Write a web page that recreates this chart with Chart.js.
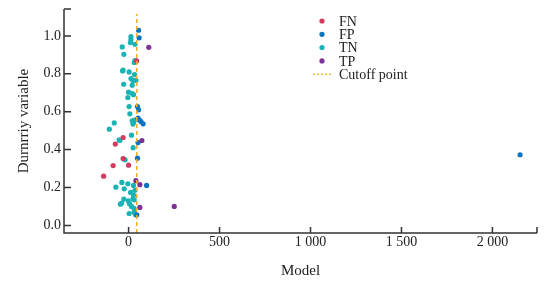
<!DOCTYPE html>
<html>
<head>
<meta charset="utf-8">
<script src="https://cdn.jsdelivr.net/npm/chart.js@4"></script>
<style>
  html, body { margin: 0; padding: 0; background: #fff; }
  #wrap { width: 550px; height: 283px; }
</style>
</head>
<body>
<div id="wrap"><canvas id="c" width="550" height="283"></canvas></div>
<script>
// data
const fnX = [44, -30, -73, -30, -85, 0, -137];
const fnY = [0.868, 0.464, 0.429, 0.353, 0.316, 0.318, 0.26];

const fpX = [55, 58, 49, 55, 52, 60, 68, 80, 52, 49, 99, 45, 2152];
const fpY = [1.03, 0.99, 0.627, 0.61, 0.566, 0.556, 0.548, 0.536, 0.437, 0.355, 0.211, 0.056, 0.373];

const tnX = [13, 13, 10, -35, 35, -26, 31, 35, -30, -33, 3, 33, 13, 24, 40, -27, 20, 0, 20, 27,
  -4, 3, 7, -79, -106, 20, 27, 33, 24, -52, 16, 25, -19, -26, -37, -4, 27, -70, -24, 35,
  11, -26, -2, -38, -45, 24, 5, 16, 30, 3, 30, 38, 31, 27, -48];
const tnY = [0.996, 0.98, 0.965, 0.942, 0.956, 0.903, 0.86, 0.87, 0.82, 0.815, 0.81, 0.796, 0.775, 0.765, 0.765, 0.745, 0.74, 0.703, 0.696, 0.69,
  0.675, 0.627, 0.589, 0.541, 0.508, 0.552, 0.545, 0.556, 0.535, 0.452, 0.476, 0.41, 0.346, 0.35, 0.227, 0.22, 0.211, 0.202, 0.193, 0.185,
  0.174, 0.139, 0.13, 0.118, 0.112, 0.14, 0.115, 0.1, 0.09, 0.063, 0.07, 0.056, 0.135, 0.16, 0.448];

const tpX = [111, 73, 40, 62, 62, 251];
const tpY = [0.94, 0.448, 0.236, 0.215, 0.095, 0.10];

const cutoff = 45;
const xTicks = [0, 500, 1000, 1500, 2000];
const yTicks = [0, 0.2, 0.4, 0.6, 0.8, 1.0];
const legendLabels = ["FN", "FP", "TN", "TP", "Cutoff point"];

const colFN = "#d23a5f", colFP = "#0b74bf", colTN = "#1ab3b5", colTP = "#7d3296", colCut = "#f5ac2c";
const serif = "'Liberation Serif', 'DejaVu Serif', serif";

function pts(xs, ys) { return xs.map((x, i) => ({x: x, y: ys[i]})); }

function dots(label, xs, ys, color, order) {
  return {
    type: "scatter", label: label, data: pts(xs, ys), order: order,
    backgroundColor: color, borderColor: color, pointRadius: 2.6, pointHoverRadius: 2.6, borderWidth: 0
  };
}

// axes, inward ticks and the legend
const frame = {
  id: "frame",
  afterDraw(chart) {
    const ctx = chart.ctx, a = chart.chartArea;
    const xs = chart.scales.x, ys = chart.scales.y;
    ctx.save();
    ctx.strokeStyle = "#333";
    ctx.lineWidth = 1.5;
    ctx.beginPath();
    ctx.moveTo(a.left, a.top); ctx.lineTo(a.left, a.bottom); ctx.lineTo(a.right, a.bottom);
    xTicks.forEach(v => { const p = xs.getPixelForValue(v); ctx.moveTo(p, a.bottom); ctx.lineTo(p, a.bottom - 6); });
    ctx.moveTo(a.right, a.bottom); ctx.lineTo(a.right, a.bottom - 6);
    yTicks.forEach(v => { const p = ys.getPixelForValue(v); ctx.moveTo(a.left, p); ctx.lineTo(a.left + 7, p); });
    ctx.moveTo(a.left, a.top); ctx.lineTo(a.left + 7, a.top);
    ctx.stroke();

    // legend
    const cols = [colFN, colFP, colTN, colTP];
    ctx.font = "14px " + serif;
    ctx.textBaseline = "middle";
    legendLabels.forEach((t, i) => {
      const y = 21 + i * 13.3;
      if (i < 4) {
        ctx.beginPath(); ctx.fillStyle = cols[i];
        ctx.arc(322, y, 2.6, 0, Math.PI * 2); ctx.fill();
      } else {
        ctx.strokeStyle = colCut; ctx.lineWidth = 1.3; ctx.setLineDash([2, 2]);
        ctx.beginPath(); ctx.moveTo(313, y); ctx.lineTo(332, y); ctx.stroke();
        ctx.setLineDash([]);
      }
      ctx.fillStyle = "#222";
      ctx.fillText(t, 339, y + 1);
    });
    ctx.restore();
  }
};

new Chart(document.getElementById("c"), {
  data: {
    datasets: [
      {
        type: "line", label: "Cutoff point", order: 0,
        data: [{x: cutoff, y: -0.04}, {x: cutoff, y: 1.115}],
        borderColor: colCut, borderWidth: 1.5, borderDash: [4, 3], pointRadius: 0, fill: false
      },
      dots("TP", tpX, tpY, colTP, 1),
      dots("FN", fnX, fnY, colFN, 2),
      dots("FP", fpX, fpY, colFP, 3),
      dots("TN", tnX, tnY, colTN, 4)
    ]
  },
  options: {
    responsive: false,
    animation: false,
    layout: {padding: {left: 0, right: 13, top: 9, bottom: 0}},
    plugins: {legend: {display: false}, tooltip: {enabled: false}},
    scales: {
      x: {
        type: "linear", min: -355, max: 2245,
        grid: {display: false, drawTicks: false},
        border: {display: false},
        afterBuildTicks: s => { s.ticks = xTicks.map(v => ({value: v})); },
        afterFit: s => { s.height = 50; s.paddingLeft = 0; s.paddingRight = 0; },
        ticks: {
          padding: 1, color: "#222", font: {family: serif, size: 14},
          callback: v => v >= 1000 ? Math.floor(v / 1000) + " " + String(v % 1000).padStart(3, "0") : String(v)
        },
        title: {display: true, text: "Model", color: "#222", font: {family: serif, size: 15}, padding: {top: 0, bottom: 3}}
      },
      y: {
        type: "linear", min: -0.04, max: 1.142,
        grid: {display: false, drawTicks: false},
        border: {display: false},
        afterBuildTicks: s => { s.ticks = yTicks.map(v => ({value: v})); },
        afterFit: s => { s.width = 64; s.paddingTop = 0; s.paddingBottom = 0; },
        ticks: {padding: 3, color: "#222", font: {family: serif, size: 14}, callback: v => v.toFixed(1)},
        title: {display: true, text: "Durnrriy variable", color: "#222", font: {family: serif, size: 15}, padding: {top: 15, bottom: 0}}
      }
    }
  },
  plugins: [frame]
});
</script>
</body>
</html>
